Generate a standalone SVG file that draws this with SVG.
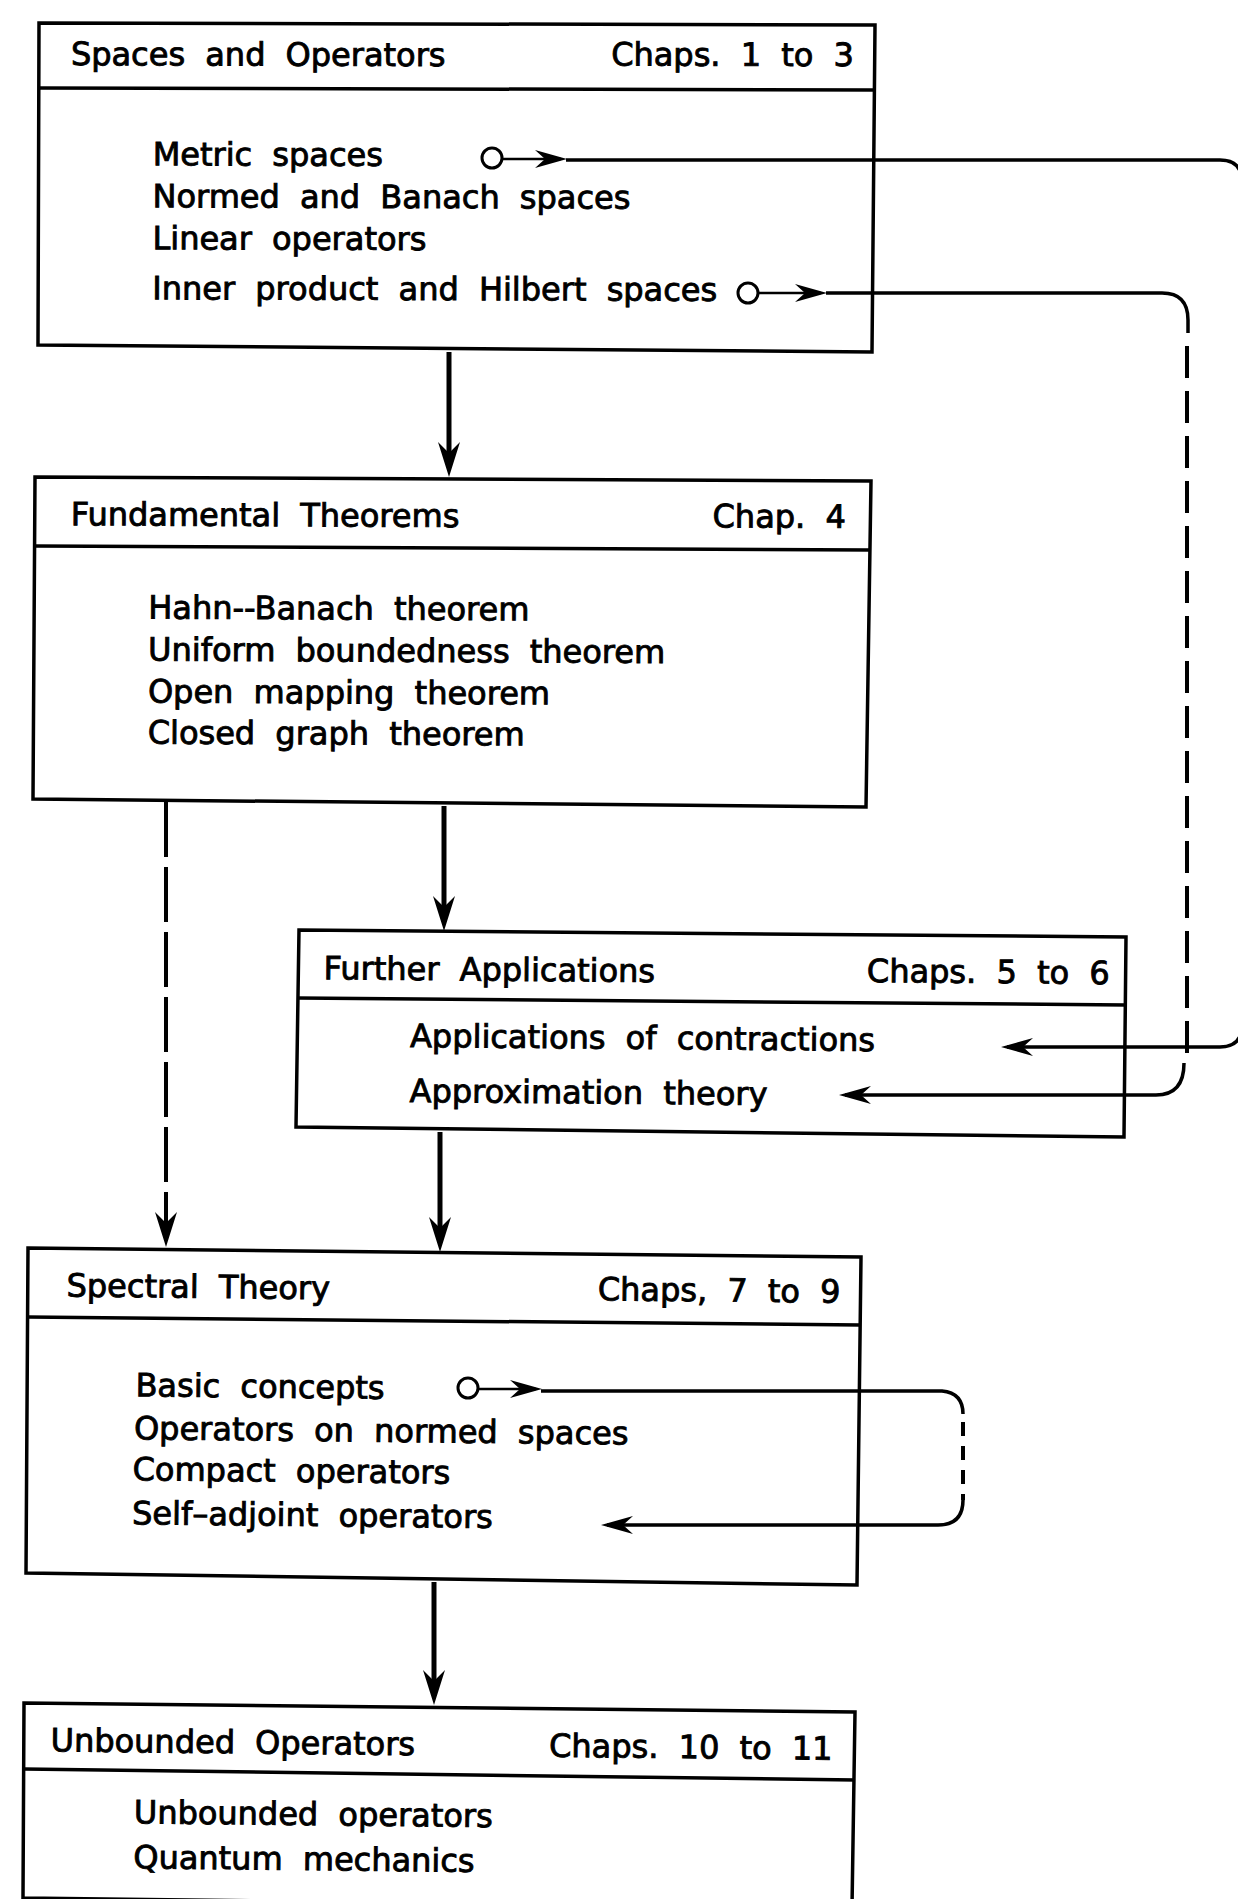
<svg xmlns="http://www.w3.org/2000/svg" width="1238" height="1899" viewBox="0 0 1238 1899">
<style>
.box{fill:none;stroke:#000;stroke-width:3.5;stroke-linejoin:miter}
.hdr{fill:none;stroke:#000;stroke-width:3.5}
text{font-family:"DejaVu Sans","Liberation Sans",sans-serif;font-size:32px;fill:#000;stroke:#000;stroke-width:0.9;word-spacing:10px}
.end{text-anchor:end}
.thick{fill:none;stroke:#000;stroke-width:5}
.line{fill:none;stroke:#000;stroke-width:3.5}
.thin{fill:none;stroke:#000;stroke-width:2.5}
.dashL{fill:none;stroke:#000;stroke-width:4;stroke-dasharray:55 10}
.dashR{fill:none;stroke:#000;stroke-width:4;stroke-dasharray:32 13}
.dashS{fill:none;stroke:#000;stroke-width:4;stroke-dasharray:14 10}
.dot{fill:#fff;stroke:#000;stroke-width:3}
</style>
<defs>
<marker id="big" viewBox="-38 -13 40 26" refX="-10" refY="0" markerWidth="40" markerHeight="26" orient="auto" markerUnits="userSpaceOnUse">
<path d="M0,0 L-35,-11 L-24,0 L-35,11 Z" fill="#000"/>
</marker>
<marker id="small" viewBox="-34 -11 36 22" refX="-6" refY="0" markerWidth="36" markerHeight="22" orient="auto" markerUnits="userSpaceOnUse">
<path d="M0,0 L-32,-9 L-22,0 L-32,9 Z" fill="#000"/>
</marker>
</defs>
<rect x="0" y="0" width="1238" height="1899" fill="#fff"/>

<g id="spaces-operators">
<path class="box" d="M39,23 L875,25 L872,352 L38,345 Z"/>
<path class="hdr" d="M39,88 L874,90"/>
<g transform="rotate(0.15 39 23)">
<text x="71" y="65">Spaces and Operators</text>
<text class="end" x="854" y="64">Chaps. 1 to 3</text>
<text x="153" y="165">Metric spaces</text>
<text x="153" y="207">Normed and Banach spaces</text>
<text x="153" y="249">Linear operators</text>
<text x="153" y="299">Inner product and Hilbert spaces</text>
</g>
</g>

<g id="fundamental-theorems">
<path class="box" d="M35,477 L871,481 L866,807 L33,799 Z"/>
<path class="hdr" d="M35,546 L870,550"/>
<g transform="rotate(0.28 35 477)">
<text x="71" y="525">Fundamental Theorems</text>
<text class="end" x="846" y="524">Chap. 4</text>
<text x="149" y="618">Hahn--Banach theorem</text>
<text x="149" y="660">Uniform boundedness theorem</text>
<text x="149" y="702">Open mapping theorem</text>
<text x="149" y="743">Closed graph theorem</text>
</g>
</g>

<g id="further-applications">
<path class="box" d="M299,930 L1126,937 L1124,1137 L296,1127 Z"/>
<path class="hdr" d="M298,998 L1126,1005"/>
<g transform="rotate(0.5 299 930)">
<text x="324" y="979">Further Applications</text>
<text class="end" x="1110" y="977">Chaps. 5 to 6</text>
<text x="411" y="1046">Applications of contractions</text>
<text x="411" y="1101">Approximation theory</text>
</g>
</g>

<g id="spectral-theory">
<path class="box" d="M28,1248 L861,1257 L857,1585 L26,1573 Z"/>
<path class="hdr" d="M28,1317 L860,1325"/>
<g transform="rotate(0.62 28 1248)">
<text x="67" y="1296">Spectral Theory</text>
<text class="end" x="841" y="1294">Chaps, 7 to 9</text>
<text x="137" y="1395">Basic concepts</text>
<text x="136" y="1438">Operators on normed spaces</text>
<text x="135" y="1479">Compact operators</text>
<text x="135" y="1523">Self–adjoint operators</text>
</g>
</g>

<g id="unbounded-operators">
<path class="box" d="M24,1703 L855,1712 L852,1908 L23,1898 Z"/>
<path class="hdr" d="M24,1769 L855,1780"/>
<g transform="rotate(0.62 24 1703)">
<text x="51" y="1751">Unbounded Operators</text>
<text class="end" x="833" y="1751">Chaps. 10 to 11</text>
<text x="135" y="1822">Unbounded operators</text>
<text x="135" y="1867">Quantum mechanics</text>
</g>
</g>

<g id="connectors">
<path class="thick" d="M449,352 V467" marker-end="url(#big)"/>
<path class="thick" d="M444,806 V921" marker-end="url(#big)"/>
<path class="thick" d="M440,1132 V1242" marker-end="url(#big)"/>
<path class="dashL" d="M166,802 V1237" marker-end="url(#big)"/>
<path class="thick" d="M434,1582 V1695" marker-end="url(#big)"/>

<circle class="dot" cx="492" cy="158" r="10"/>
<path class="thin" d="M502,159 H561" marker-end="url(#small)"/>
<path class="line" d="M566,160 H1220 Q1242,160 1242,182 V1025 Q1242,1047 1220,1047 H1007" marker-end="url(#small)"/>

<circle class="dot" cx="748" cy="293" r="10"/>
<path class="thin" d="M758,293 H821" marker-end="url(#small)"/>
<path class="line" d="M826,293 H1162 Q1188,293 1188,320 V333"/>
<path class="dashR" d="M1187,346 V1063"/>
<path class="line" d="M1184,1063 Q1184,1095 1156,1095 H845" marker-end="url(#small)"/>

<circle class="dot" cx="468" cy="1388" r="10"/>
<path class="thin" d="M478,1389 H536" marker-end="url(#small)"/>
<path class="line" d="M541,1391 H942 Q963,1393 963,1414"/>
<path class="dashS" d="M963,1422 V1500"/>
<path class="line" d="M963,1500 Q963,1525 938,1525 H607" marker-end="url(#small)"/>
</g>
</svg>
